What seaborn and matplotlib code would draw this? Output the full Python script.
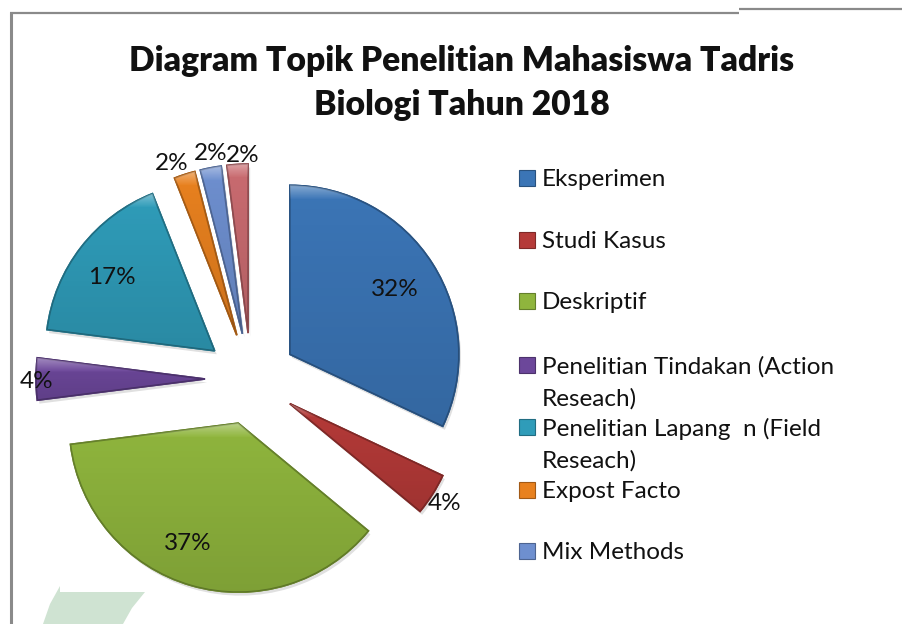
import numpy as np
import matplotlib
matplotlib.use("Agg")
import matplotlib.pyplot as plt
import matplotlib.patheffects as pe
from matplotlib.patches import Rectangle, Polygon
import seaborn as sns

sns.set_theme(style="white")
plt.rcParams['font.family'] = ['Lato', 'DejaVu Sans']

title_lines = ["Diagram Topik Penelitian Mahasiswa Tadris", "Biologi Tahun 2018"]
categories = ["Eksperimen", "Studi Kasus", "Deskriptif", "Penelitian Tindakan (Action Reseach)",
              "Penelitian Lapang n (Field Reseach)", "Expost Facto", "Mix Methods", "Lainnya"]
legend_labels = ["Eksperimen", "Studi Kasus", "Deskriptif", "Penelitian Tindakan (Action\nReseach)",
                 "Penelitian Lapang  n (Field\nReseach)", "Expost Facto", "Mix Methods"]
values = [32, 4, 37, 4, 17, 2, 2, 2]
colors = ["#3B75B6", "#B53A38", "#8FB53D", "#6C479A", "#2F9CB9", "#E8811F", "#6E8FCF", "#C96B70"]

W, H = 902, 624
fig = plt.figure(figsize=(W / 100, H / 100), dpi=100, facecolor="white")
ax = fig.add_axes([0, 0, 1, 1])

def py(y):
    return H - y

# pie in pixel-sized data units
cx, cy, radius, explode = 251, 379, 169, 46
wedges, _ = ax.pie(values, explode=[explode] * len(values), colors=colors,
                   startangle=90, counterclock=False, center=(cx, py(cy)), radius=radius,
                   frame=True,
                   wedgeprops=dict(linewidth=1.2))
for w, c in zip(wedges, colors):
    rgb = np.array(matplotlib.colors.to_rgb(c))
    w.set_edgecolor(tuple(rgb * 0.72))
    w.set_path_effects([pe.withSimplePatchShadow(offset=(1.5, -2.5), shadow_rgbFace="#999999", alpha=0.3),
                        pe.Normal()])
    bbox = w.get_patch_transform().transform_path(w.get_path()).get_extents()
    n = max(int(bbox.height), 2)
    grad = np.zeros((n, 2, 4))
    t = np.arange(n)
    light = np.clip(0.38 * (1 - t / 14), 0, None)
    dark = 0.12 * np.clip(t / n, 0, 1)
    grad[:, :, :3] = np.where(light[:, None, None] > 0, 1.0, 0.0)
    grad[:, :, 3] = np.where(light > 0, light, dark)[:, None]
    im = ax.imshow(grad, extent=(bbox.x0, bbox.x1, bbox.y0, bbox.y1), origin="upper",
                   aspect="auto", zorder=w.get_zorder() + 0.1, interpolation="bilinear")
    im.set_clip_path(w)

# percentage labels
label_x = [395, 445, 188, 37, 112, 172, 211, 243]
label_y = [289, 502, 543, 380, 277, 163, 153, 155]
for v, lx, ly in zip(values, label_x, label_y):
    ax.text(lx, py(ly + 1), f"{v}%", ha="center", va="center", fontsize=17.5, color="#111111", zorder=5)

# title
for line, ty in zip(title_lines, [61, 105]):
    ax.text(462, py(ty), line, ha="center", va="center", fontsize=24.25, fontweight="heavy",
            color="#111111", zorder=5)

# legend
leg_y = [178, 240, 301, 365, 427, 490, 551]
for lab, c, ly in zip(legend_labels, colors, leg_y):
    rgb = np.array(matplotlib.colors.to_rgb(c))
    ax.add_patch(Rectangle((519, py(ly) - 8), 16, 16, facecolor=c, edgecolor=tuple(rgb * 0.7), linewidth=0.8))
    first, _, second = lab.partition("\n")
    ax.text(542, py(ly + 1.5), first, ha="left", va="center", fontsize=17.5, color="#111111")
    if second:
        ax.text(542, py(ly + 33.5), second, ha="left", va="center", fontsize=17.5, color="#111111")

# page border and background mark
border = "#8A8A8A"
ax.plot([11, 11], [py(12), py(624)], color=border, lw=2.2, solid_capstyle="butt")
ax.plot([10, 739], [py(13), py(13)], color=border, lw=1.6, solid_capstyle="butt")
ax.plot([739, 902], [py(9), py(9)], color=border, lw=1.6, solid_capstyle="butt")
mark = [(60, 586), (60, 592), (145, 592), (132, 608), (123, 624), (43, 624), (50, 604)]
ax.add_patch(Polygon([(x, py(y)) for x, y in mark], closed=True,
                     facecolor="#CFE3D2", edgecolor="none", zorder=0))

ax.set_xlim(0, W)
ax.set_ylim(0, H)
ax.set_aspect("auto")
ax.axis("off")
fig.savefig("out.png", dpi=100, facecolor="white")
